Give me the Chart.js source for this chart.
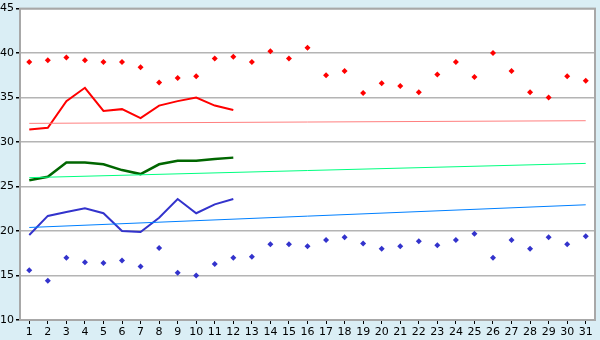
<!DOCTYPE html>
<html>
<head>
<meta charset="utf-8">
<title>Daily temperatures</title>
<script src="https://cdn.jsdelivr.net/npm/chart.js@4.4.1/dist/chart.umd.min.js"></script>
<style>
  html, body { margin: 0; padding: 0; background: #daeef5; }
  #wrap { width: 600px; height: 340px; }
</style>
</head>
<body>
<div id="wrap"><canvas id="tempChart" width="600" height="340"></canvas></div>
<script>
  // categories (day of month)
  const days = ['1', '2', '3', '4', '5', '6', '7', '8', '9', '10', '11', '12', '13', '14', '15', '16',
    '17', '18', '19', '20', '21', '22', '23', '24', '25', '26', '27', '28', '29', '30', '31'];

  // y axis ticks
  const yTicks = [10, 15, 20, 25, 30, 35, 40, 45];

  // scattered daily points
  const highPoints = [39.0, 39.2, 39.5, 39.2, 39.0, 39.0, 38.4, 36.7, 37.2, 37.4, 39.4, 39.6, 39.0, 40.2, 39.4, 40.6,
    37.5, 38.0, 35.5, 36.6, 36.3, 35.6, 37.6, 39.0, 37.3, 40.0, 38.0, 35.6, 35.0, 37.4, 36.9];
  const lowPoints = [15.6, 14.4, 17.0, 16.5, 16.4, 16.7, 16.0, 18.1, 15.3, 15.0, 16.3, 17.0, 17.1, 18.5, 18.5, 18.3,
    19.0, 19.3, 18.6, 18.0, 18.3, 18.85, 18.4, 19.0, 19.7, 17.0, 19.0, 18.0, 19.3, 18.5, 19.4];

  // lines for the first 12 days
  const highLine = [31.4, 31.6, 34.6, 36.1, 33.5, 33.7, 32.7, 34.1, 34.6, 35.0, 34.1, 33.6];
  const meanLine = [25.7, 26.1, 27.7, 27.7, 27.5, 26.85, 26.4, 27.5, 27.9, 27.9, 28.1, 28.25];
  const lowLine = [19.55, 21.7, 22.15, 22.55, 22.0, 20.0, 19.9, 21.5, 23.6, 22.0, 23.0, 23.6];

  // trend lines, value on day 1 and day 31
  const highTrend = [32.1, 32.4];
  const meanTrend = [26.0, 27.6];
  const lowTrend = [20.4, 22.95];

  (function () {
    'use strict';

    function trendData(ends) {
      return [{ x: days[0], y: ends[0] }, { x: days[days.length - 1], y: ends[1] }];
    }

    /* background: light blue page, white plot with grey frame */
    const framePlugin = {
      id: 'frame',
      beforeDraw(chart) {
        const c = chart.ctx, a = chart.chartArea;
        c.save();
        c.fillStyle = '#daeef5';
        c.fillRect(0, 0, chart.width, chart.height);
        c.fillStyle = '#ffffff';
        c.fillRect(a.left, a.top, a.right - a.left, a.bottom - a.top);
        c.restore();
      },
      afterDraw(chart) {
        const c = chart.ctx, a = chart.chartArea;
        c.save();
        c.strokeStyle = '#a8a8a8';
        c.lineWidth = 2;
        c.strokeRect(a.left, a.top, a.right - a.left, a.bottom - a.top);
        c.restore();
      }
    };

    const lineDs = (data, color, width) => ({
      type: 'line',
      data: data,
      borderColor: color,
      backgroundColor: color,
      borderWidth: width,
      pointRadius: 0,
      tension: 0,
      fill: false,
      spanGaps: true
    });

    const pointDs = (data, color) => ({
      type: 'line',
      data: data,
      showLine: false,
      pointStyle: 'rectRot',
      pointRadius: 3,
      pointBorderWidth: 0,
      pointBackgroundColor: color,
      borderColor: color
    });

    Chart.defaults.font.family = '"DejaVu Sans", sans-serif';
    Chart.defaults.font.size = 11;
    Chart.defaults.color = '#000';

    new Chart(document.getElementById('tempChart'), {
      type: 'line',
      data: {
        labels: days,
        datasets: [
          lineDs(trendData(highTrend), '#ff8080', 1),
          lineDs(trendData(meanTrend), '#00ff80', 1),
          lineDs(trendData(lowTrend), '#0080ff', 1),
          lineDs(highLine, '#ff0000', 2),
          lineDs(meanLine, '#006600', 2.5),
          lineDs(lowLine, '#3333cc', 2),
          pointDs(highPoints, '#ff0000'),
          pointDs(lowPoints, '#3333cc')
        ]
      },
      options: {
        responsive: false,
        animation: false,
        layout: { padding: { top: 5, right: 5, left: 0, bottom: 0 } },
        plugins: {
          legend: { display: false },
          tooltip: { enabled: false }
        },
        scales: {
          x: {
            type: 'category',
            offset: true,
            grid: { offset: false, drawOnChartArea: false, tickLength: 4, tickColor: '#000' },
            border: { display: false },
            ticks: { padding: 2, maxRotation: 0, autoSkip: false },
            afterFit: s => { s.height = 20; }
          },
          y: {
            min: yTicks[0],
            max: yTicks[yTicks.length - 1],
            afterBuildTicks: s => { s.ticks = yTicks.map(v => ({ value: v })); },
            grid: { color: '#b4b4b4', lineWidth: 1.5, tickLength: 4, tickColor: '#000' },
            border: { display: false },
            ticks: { padding: 2 },
            afterFit: s => { s.width = 20; }
          }
        }
      },
      plugins: [framePlugin]
    });
  })();
</script>
</body>
</html>
